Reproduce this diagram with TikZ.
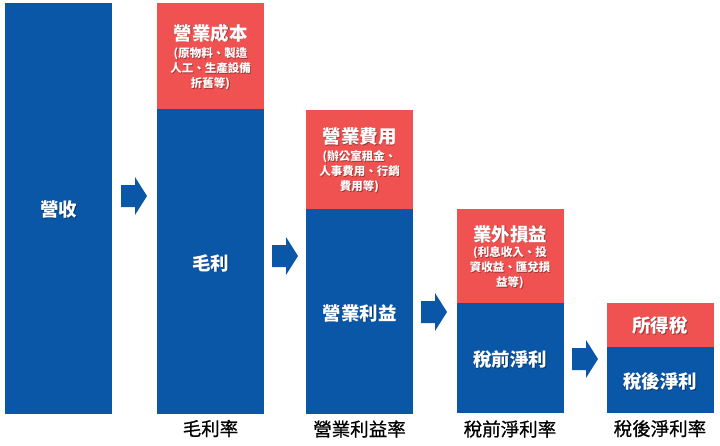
\documentclass[tikz,border=0pt]{standalone}
\usepackage{fontspec}
\setmainfont{Noto Sans CJK TC}
\newfontfamily\lblfont[FakeBold=0.8]{Noto Sans CJK TC}
\definecolor{cBlue}{HTML}{0A57A8}
\definecolor{cRed}{HTML}{F05252}
\newcommand\shadowtxt[4]{%
  \node[#1,text=black,opacity=0.35,xshift=0.9pt,yshift=-0.9pt] at (#2) {#4};
  \node[#1] (#3) at (#2) {#4};}
\begin{document}
\begin{tikzpicture}[x=1pt,y=-1pt,
  barbase/.style={rectangle,inner sep=0pt,outer sep=0pt,minimum width=107pt,anchor=north west},
  bluebar/.style={barbase,fill=cBlue},
  redbar/.style={barbase,fill=cRed},
  bartxt/.style={text=white,inner sep=0pt,font=\bfseries\fontsize{18.5}{22}\selectfont},
  subtxt/.style={text=white,inner sep=0pt,align=center,font=\bfseries\fontsize{11.5}{15}\selectfont},
  lbl/.style={text=black,inner sep=0pt,font=\lblfont\fontsize{18.5}{22}\selectfont},
  pics/flowarrow/.style={code={\fill[cBlue] (0,-11) -- (14,-11) -- (14,-19) -- (26,0) -- (14,19) -- (14,11) -- (0,11) -- cycle;}}]
\useasboundingbox (0,0) rectangle (720,445);
% bar 1
\node[bluebar,minimum height=411pt] (b1) at (5,3) {};
\shadowtxt{bartxt}{58.5,210}{t1}{營收}
% bar 2
\node[redbar,minimum height=106pt] (r2) at (157,3) {};
\node[bluebar,minimum height=305pt] (b2) at (157,109) {};
\shadowtxt{bartxt}{210.5,33}{rt2}{營業成本}
\shadowtxt{subtxt}{210.5,69}{rs2}{(原物料、製造\\人工、生產設備\\折舊等)}
\shadowtxt{bartxt}{210.5,263}{t2}{毛利}
\node[lbl] (l2) at (210.5,428.5) {毛利率};
% bar 3
\node[redbar,minimum height=99pt] (r3) at (306,110) {};
\node[bluebar,minimum height=205pt] (b3) at (306,209) {};
\shadowtxt{bartxt}{359.5,137}{rt3}{營業費用}
\shadowtxt{subtxt}{359.5,172}{rs3}{(辦公室租金、\\人事費用、行銷\\費用等)}
\shadowtxt{bartxt}{359.5,313}{t3}{營業利益}
\node[lbl] (l3) at (359.5,429) {營業利益率};
% bar 4
\node[redbar,minimum height=94pt] (r4) at (457,209) {};
\node[bluebar,minimum height=110pt] (b4) at (457,303) {};
\shadowtxt{bartxt}{510,234}{rt4}{業外損益}
\shadowtxt{subtxt}{510,268}{rs4}{(利息收入、投\\資收益、匯兌損\\益等)}
\shadowtxt{bartxt}{510,360}{t4}{稅前淨利}
\node[lbl] (l4) at (510,429) {稅前淨利率};
% bar 5
\node[redbar,minimum height=44pt] (r5) at (607,303) {};
\node[bluebar,minimum height=66pt] (b5) at (607,347) {};
\shadowtxt{bartxt}{660,326}{rt5}{所得稅}
\shadowtxt{bartxt}{660,382}{t5}{稅後淨利}
\node[lbl] (l5) at (660,428.5) {稅後淨利率};
% arrows
\pic at (121,196) {flowarrow};
\pic at (272,256) {flowarrow};
\pic at (421,312) {flowarrow};
\pic at (572,359) {flowarrow};
\end{tikzpicture}
\end{document}
